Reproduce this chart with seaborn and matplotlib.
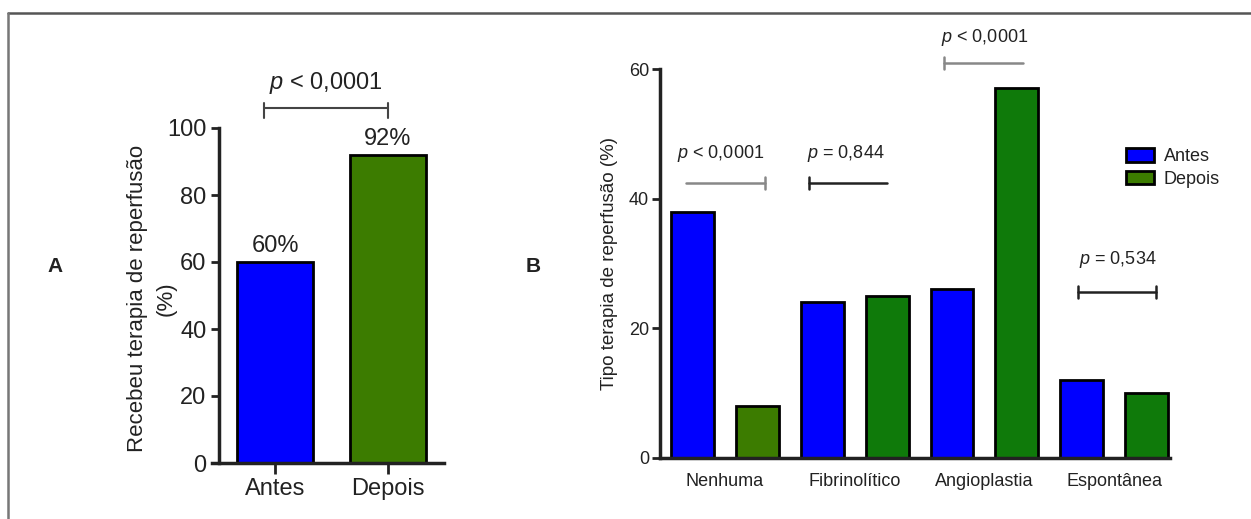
import matplotlib
matplotlib.use("Agg")
import matplotlib.pyplot as plt
import seaborn as sns
import pandas as pd
from matplotlib import font_manager

# data
grupos_a = ["Antes", "Depois"]
valores_a = [60, 92]
rotulos_a = ["60%", "92%"]

categorias_b = ["Nenhuma", "Fibrinolítico", "Angioplastia", "Espontânea"]
antes_b = [38, 24, 26, 12]
depois_b = [8, 25, 57, 10]
p_textos_b = [r"$\mathit{p}$ < 0,0001", r"$\mathit{p}$ = 0,844",
              r"$\mathit{p}$ < 0,0001", r"$\mathit{p}$ = 0,534"]

AZUL = "#0000FF"
OLIVA = "#3C7C00"
VERDE = "#0F7A0A"
cores_depois_b = [OLIVA, VERDE, VERDE, VERDE]

sns.set_style("ticks")
nomes = {f.name for f in font_manager.fontManager.ttflist}
fam = "Liberation Sans Narrow" if "Liberation Sans Narrow" in nomes else "Liberation Sans"
plt.rcParams["font.family"] = [fam, "DejaVu Sans"]
plt.rcParams["mathtext.fontset"] = "custom"
plt.rcParams["mathtext.it"] = fam + ":italic"
plt.rcParams["mathtext.rm"] = fam

W, H = 1251, 519
fig = plt.figure(figsize=(W / 100, H / 100), dpi=100)


def px_rect(x0, y0, x1, y1):
    return [x0 / W, 1 - y1 / H, (x1 - x0) / W, (y1 - y0) / H]


# moldura (top + left)
fig.add_artist(plt.Line2D([8 / W, 1], [1 - 13 / H, 1 - 13 / H], color="#555555", lw=1.8))
fig.add_artist(plt.Line2D([8 / W, 8 / W], [0, 1 - 13 / H], color="#777777", lw=1.8))

# ---------- panel A ----------
axA = fig.add_axes(px_rect(219, 128, 444, 463))
dfA = pd.DataFrame({"grupo": grupos_a, "valor": valores_a})
sns.barplot(dfA, x="grupo", y="valor", hue="grupo", palette=[AZUL, OLIVA], saturation=1,
            legend=False, width=0.675, edgecolor="black", linewidth=2, ax=axA)
axA.set_xlim(-0.5, 1.5)
axA.set_ylim(0, 100)
axA.set_yticks([0, 20, 40, 60, 80, 100])
sns.despine(ax=axA)
for s in ["left", "bottom"]:
    axA.spines[s].set_linewidth(2.5)
    axA.spines[s].set_color("#222222")
axA.spines["bottom"].set_bounds(-0.56, 1.5)
axA.tick_params(axis="both", labelsize=17, width=2, length=6, color="#222222",
                labelcolor="#222222", pad=3)
axA.tick_params(axis="x", length=8)
axA.set_xlabel("")
axA.set_ylabel("Recebeu terapia de reperfusão\n(%)", fontsize=16, color="#222222",
               linespacing=1.45)
axA.yaxis.set_label_coords(-0.19, 0.49)
for i, (v, t) in enumerate(zip(valores_a, rotulos_a)):
    axA.text(i, v + 1.5, t, ha="center", va="bottom", fontsize=17, color="#222222")
# bracket A
yb = 106
axA.plot([-0.1, 1.0], [yb, yb], color="#444444", lw=1.5, clip_on=False)
for xx in [-0.1, 1.0]:
    axA.plot([xx, xx], [yb + 1.5, yb - 3], color="#444444", lw=1.5, clip_on=False)
axA.text(0.45, yb + 3.5, r"$\mathit{p}$ < 0,0001", ha="center", va="bottom",
         fontsize=17, color="#222222", clip_on=False)
fig.text(55 / W, 1 - 266 / H, "A", fontsize=15, fontweight="bold", ha="center", va="center",
         color="#222222")

# ---------- panel B ----------
axB = fig.add_axes(px_rect(660, 69, 1170, 458))
dfB = pd.DataFrame({
    "tipo": categorias_b * 2,
    "periodo": ["Antes"] * len(categorias_b) + ["Depois"] * len(categorias_b),
    "valor": antes_b + depois_b,
})
sns.barplot(dfB, x="tipo", y="valor", hue="periodo", palette=[AZUL, OLIVA], saturation=1,
            width=1.0, gap=0.34, edgecolor="black", linewidth=2, ax=axB)
# recolour the "Depois" bars
depois_patches = axB.containers[1]
for patch, cor in zip(depois_patches, cores_depois_b):
    patch.set_facecolor(cor)
axB.set_xlim(-0.5, 3.43)
axB.set_ylim(0, 60)
axB.set_yticks([0, 20, 40, 60])
sns.despine(ax=axB)
for s in ["left", "bottom"]:
    axB.spines[s].set_linewidth(2.5)
    axB.spines[s].set_color("#222222")
axB.tick_params(axis="y", labelsize=13, width=2, length=6, color="#222222",
                labelcolor="#222222", pad=2)
axB.tick_params(axis="x", labelsize=13, length=0, pad=11, labelcolor="#222222")
axB.set_xlabel("")
axB.set_ylabel("Tipo terapia de reperfusão (%)", fontsize=13.5, color="#222222")
axB.yaxis.set_label_coords(-0.082, 0.5)

# brackets B: (x0, x1, y, text y, text x, colour, caps)
brackets = [
    (-0.30, 0.31, 42.4, 45.3, -0.03, "#888888", [0.31]),
    (-0.35, 0.25, 42.4, 45.3, -0.07, "#222222", [-0.35]),
    (-0.31, 0.30, 60.9, 63.2, 0.0, "#888888", [-0.31]),
    (-0.28, 0.32, 25.6, 29.0, 0.03, "#222222", [-0.28, 0.32]),
]
for i, (x0, x1, y, ty, tx, cor, caps) in enumerate(brackets):
    axB.plot([i + x0, i + x1], [y, y], color=cor, lw=1.8, clip_on=False)
    for c in caps:
        axB.plot([i + c, i + c], [y - 0.9, y + 0.9], color=cor, lw=1.8, clip_on=False)
    axB.text(i + tx, ty, p_textos_b[i], ha="center", va="bottom", fontsize=13,
             color="#222222", clip_on=False)

leg = axB.legend(loc="upper left", bbox_to_anchor=(1126 / W, 1 - 148 / H),
                 bbox_transform=fig.transFigure, frameon=False, fontsize=13,
                 handlelength=1.55, handleheight=0.8, labelspacing=0.3,
                 handletextpad=0.55, borderpad=0, borderaxespad=0)
for h in leg.legend_handles:
    h.set_edgecolor("black")
    h.set_linewidth(2)
for t in leg.get_texts():
    t.set_color("#222222")
fig.text(533 / W, 1 - 266 / H, "B", fontsize=15, fontweight="bold", ha="center", va="center",
         color="#222222")

fig.savefig("out.png", dpi=100)
